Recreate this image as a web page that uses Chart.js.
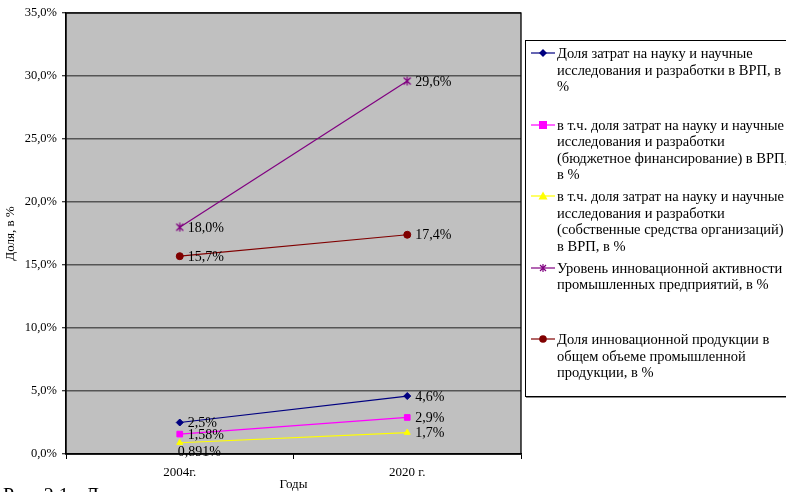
<!DOCTYPE html>
<html>
<head>
<meta charset="utf-8">
<script src="https://cdn.jsdelivr.net/npm/chart.js@4/dist/chart.umd.min.js"></script>
<style>
  html, body { margin: 0; padding: 0; background: #fff; overflow: hidden; }
  #wrap { position: relative; width: 786px; height: 492px; overflow: hidden; }
  #chart { position: absolute; left: 0; top: 0; }
  #legend {
    position: absolute; left: 525px; top: 40px; width: 270px; height: 355px;
    border: 1px solid #000; box-shadow: 1px 1px 0 #888; background: #fff;
    font-family: "Liberation Serif", "Times New Roman", serif; font-size: 14.5px; color: #000;
  }
  .item { position: absolute; left: 0; width: 270px; }
  .item svg { position: absolute; left: 4px; top: 1px; }
  .item div { margin-left: 31px; line-height: 16.5px; white-space: nowrap; }
  #caption {
    position: absolute; left: 3px; top: 485px; line-height: 20px;
    font-family: "Liberation Serif", "Times New Roman", serif; font-size: 20px; color: #000;
  }
</style>
</head>
<body>
<div id="wrap">
  <canvas id="chart" width="786" height="492"></canvas>
  <div id="legend"></div>
  <div id="caption">Рис. 2.1 - Д</div>
</div>
<script>
const years = ['2004г.', '2020 г.'];

// legend names, one entry per line
const seriesNames = [
  ['Доля затрат на науку и научные', 'исследования и разработки в ВРП, в', '%'],
  ['в т.ч. доля затрат на науку и научные', 'исследования и разработки', '(бюджетное финансирование) в ВРП,', 'в %'],
  ['в т.ч. доля затрат на науку и научные', 'исследования и разработки', '(собственные средства организаций)', 'в ВРП, в %'],
  ['Уровень инновационной активности', 'промышленных предприятий, в %'],
  ['Доля инновационной продукции в', 'общем объеме промышленной', 'продукции, в %']
];

const rdShare = [2.5, 4.6];
const rdBudget = [1.58, 2.9];
const rdOwn = [0.891, 1.7];
const innovActivity = [18.0, 29.6];
const innovProducts = [15.7, 17.4];

const yTicks = [0, 5, 10, 15, 20, 25, 30, 35];

const seriesColors = ['#000080', '#FF00FF', '#FFFF00', '#800080', '#800000'];
const seriesMarkers = ['rectRot', 'rect', 'triangle', 'star', 'circle'];
const seriesValues = [rdShare, rdBudget, rdOwn, innovActivity, innovProducts];

const serif = '"Liberation Serif", "Times New Roman", serif';

function fmt(v) {
  const s = Number.isInteger(v) ? v.toFixed(1) : String(v);
  return s.replace('.', ',') + '%';
}

// X with a vertical stroke
function starMarker(color) {
  const c = document.createElement('canvas');
  c.width = 10; c.height = 10;
  const g = c.getContext('2d');
  g.strokeStyle = color;
  g.lineWidth = 1.2;
  g.beginPath();
  g.moveTo(1.5, 1.5); g.lineTo(8.5, 8.5);
  g.moveTo(8.5, 1.5); g.lineTo(1.5, 8.5);
  g.moveTo(5, 0.5); g.lineTo(5, 9.5);
  g.stroke();
  return c;
}

const datasets = seriesValues.map(function (vals, i) {
  const m = seriesMarkers[i];
  return {
    label: seriesNames[i].join(' '),
    data: vals,
    borderColor: seriesColors[i],
    backgroundColor: seriesColors[i],
    borderWidth: 1.2,
    pointStyle: m === 'star' ? starMarker(seriesColors[i]) : m,
    pointRadius: m === 'rect' ? 4 : 3.5,
    pointBorderWidth: 1,
    tension: 0,
    labelBelow: i === 2
  };
});

// grey plot area plus border
const plotBg = {
  id: 'plotBg',
  beforeDraw(chart) {
    const a = chart.chartArea, c = chart.ctx;
    c.save();
    c.fillStyle = '#fff';
    c.fillRect(0, 0, chart.width, chart.height);
    c.fillStyle = '#C0C0C0';
    c.fillRect(a.left, a.top, a.right - a.left, a.bottom - a.top);
    c.restore();
  },
  afterDatasetsDraw(chart) {
    const a = chart.chartArea, c = chart.ctx;
    c.save();
    c.strokeStyle = '#000';
    c.lineWidth = 1.3;
    c.strokeRect(a.left, a.top, a.right - a.left, a.bottom - a.top);
    c.restore();
  }
};

// value labels next to each point
const pointLabels = {
  id: 'pointLabels',
  afterDatasetsDraw(chart) {
    const c = chart.ctx;
    c.save();
    c.font = '14px ' + serif;
    c.fillStyle = '#000';
    c.textBaseline = 'middle';
    c.textAlign = 'left';
    chart.data.datasets.forEach(function (ds, i) {
      chart.getDatasetMeta(i).data.forEach(function (pt, j) {
        const txt = fmt(ds.data[j]);
        if (ds.labelBelow && j === 0) {
          c.fillText(txt, pt.x - 2, pt.y + 10);
        } else {
          c.fillText(txt, pt.x + 8, pt.y + 1);
        }
      });
    });
    c.restore();
  }
};

const ctx = document.getElementById('chart').getContext('2d');

new Chart(ctx, {
  type: 'line',
  data: { labels: years, datasets: datasets },
  plugins: [plotBg, pointLabels],
  options: {
    responsive: false,
    animation: false,
    layout: { padding: { left: 0, top: 13, right: 265, bottom: 0 } },
    plugins: { legend: { display: false }, tooltip: { enabled: false } },
    scales: {
      x: {
        offset: true,
        afterFit(scale) { scale.height = 38; },
        grid: { display: true, drawOnChartArea: false, offset: true, color: '#000', tickLength: 5 },
        border: { color: '#000', width: 1.3 },
        ticks: { color: '#000', padding: 6, font: { family: serif, size: 13 } },
        title: {
          display: true, text: 'Годы', color: '#000', padding: { top: 0, bottom: 0 },
          font: { family: serif, size: 13 }
        }
      },
      y: {
        min: 0,
        max: 35,
        afterFit(scale) { scale.width = 66; },
        afterBuildTicks(scale) { scale.ticks = yTicks.map(function (v) { return { value: v }; }); },
        grid: {
          color: function (c) { return c.tick && c.tick.value === 0 ? '#000' : '#555'; },
          lineWidth: 1.5,
          tickColor: '#000',
          tickLength: 4,
          tickWidth: 1
        },
        border: { color: '#000', width: 1.3 },
        ticks: {
          color: '#000', padding: 5,
          font: { family: serif, size: 12.5 },
          callback: function (v) { return v.toFixed(1).replace('.', ',') + '%'; }
        },
        title: {
          display: true, text: 'Доля, в %', color: '#000', padding: { top: 3, bottom: 0 },
          font: { family: serif, size: 13 }
        }
      }
    }
  }
});

// legend with wrapped names
function markerSvg(style, color) {
  let shape = '';
  if (style === 'rectRot') shape = '<polygon points="13,3 17,7 13,11 9,7" fill="' + color + '"/>';
  if (style === 'rect') shape = '<rect x="9" y="3" width="8" height="8" fill="' + color + '"/>';
  if (style === 'triangle') shape = '<polygon points="13,2.5 17.5,10.5 8.5,10.5" fill="' + color + '"/>';
  if (style === 'star') shape = '<path d="M10,4 L16,10 M16,4 L10,10 M13,3 L13,11" stroke="' + color + '" stroke-width="1.2"/>';
  if (style === 'circle') shape = '<circle cx="13" cy="7" r="3.8" fill="' + color + '"/>';
  return '<svg width="26" height="14"><line x1="1" y1="7" x2="25" y2="7" stroke="' + color + '" stroke-width="1.2"/>' + shape + '</svg>';
}

const legendEl = document.getElementById('legend');
seriesNames.forEach(function (lines, i) {
  const item = document.createElement('div');
  item.className = 'item';
  item.style.top = (4 + i * 71.5) + 'px';
  item.innerHTML = markerSvg(seriesMarkers[i], seriesColors[i]) + '<div>' + lines.join('<br>') + '</div>';
  legendEl.appendChild(item);
});
</script>
</body>
</html>
